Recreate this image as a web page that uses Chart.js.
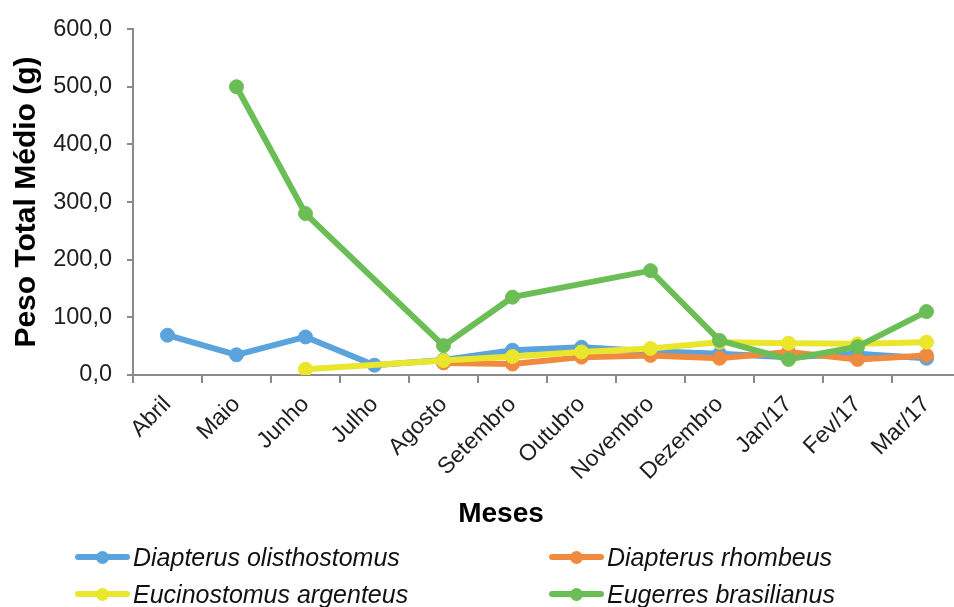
<!DOCTYPE html>
<html lang="pt">
<head>
<meta charset="utf-8">
<title>Peso Total Médio por mês</title>
<script src="https://cdn.jsdelivr.net/npm/chart.js@4.4.1/dist/chart.umd.min.js"></script>
<style>
  html, body { margin: 0; padding: 0; background: #fff; overflow: hidden; }
  #wrap { position: relative; width: 954px; height: 607px; overflow: hidden; }
  #chart { position: absolute; left: 0; top: 0; }
  #xtitle {
    position: absolute; left: 401px; width: 200px; top: 497px; text-align: center;
    font-family: "Liberation Sans", Arial, sans-serif; font-weight: bold;
    font-size: 28px; line-height: 32px; color: #000;
  }
  #legend {
    position: absolute; left: 75px; top: 542px;
    display: grid; grid-template-columns: 474px 380px; row-gap: 7px;
    font-family: "Liberation Sans", Arial, sans-serif; font-style: italic;
    font-size: 25px; color: #111;
  }
  .item { display: flex; align-items: center; height: 30px; white-space: nowrap; }
  .sym { position: relative; width: 55px; height: 6px; margin-right: 3px; border-radius: 3px; }
  .sym i { position: absolute; left: 50%; top: 50%; width: 13px; height: 13px;
           margin: -6.5px 0 0 -6.5px; border-radius: 50%; background: inherit; }
</style>
</head>
<body>
<div id="wrap">
  <canvas id="chart" width="969" height="607"></canvas>
  <div id="xtitle">Meses</div>
  <div id="legend"></div>
</div>
<script>
// Meses de coleta
const months = ['Abril', 'Maio', 'Junho', 'Julho', 'Agosto', 'Setembro', 'Outubro',
                'Novembro', 'Dezembro', 'Jan/17', 'Fev/17', 'Mar/17'];

// Peso total médio (g) por espécie; null = sem captura no mês
const olisthostomus = [69, 35, 66, 17, 26, 43, 48, 41, 37, 31, 37, 29];
const rhombeus      = [null, null, null, null, 21, 19, 31, 34, 29, 40, 27, 34];
const argenteus     = [null, null, 10, null, 25, 32, 40, 46, 57, 55, 54, 57];
const brasilianus   = [null, 500, 280, null, 51, 135, null, 181, 60, 27, 49, 110];

const speciesNames = ['Diapterus olisthostomus', 'Diapterus rhombeus',
                      'Eucinostomus argenteus', 'Eugerres brasilianus'];
const colors = ['#5ba3dc', '#f08a3e', '#e9e62c', '#6bbd55'];

const yTicks = [0, 100, 200, 300, 400, 500, 600];

const FONT = '"Liberation Sans", Arial, sans-serif';
const AXIS = '#8a8a8a';

function series(i, data, order) {
  return {
    label: speciesNames[i], data,
    borderColor: colors[i], backgroundColor: colors[i],
    pointBackgroundColor: colors[i], pointBorderColor: colors[i],
    borderWidth: 6, pointRadius: 7, pointHoverRadius: 7, pointBorderWidth: 1,
    tension: 0, spanGaps: true, order
  };
}

const chart = new Chart(document.getElementById('chart'), {
  type: 'line',
  data: {
    labels: months,
    datasets: [
      series(0, olisthostomus, 4),
      series(1, rhombeus, 3),
      series(2, argenteus, 2),
      series(3, brasilianus, 1)
    ]
  },
  options: {
    responsive: false,
    animation: false,
    layout: { padding: { top: 21, left: 0, right: 0, bottom: 78 } },
    plugins: { legend: { display: false }, tooltip: { enabled: false } },
    scales: {
      x: {
        offset: true,
        grid: { offset: true, drawOnChartArea: false, drawTicks: true,
                tickLength: 8, color: AXIS, lineWidth: 2 },
        border: { color: AXIS, width: 2 },
        ticks: { autoSkip: false, minRotation: 45, maxRotation: 45, padding: 8,
                 color: '#1e1e1e', font: { family: FONT, size: 23 } },
        afterFit: s => { s.height = 154; }
      },
      y: {
        min: 0, max: 600,
        afterBuildTicks: s => { s.ticks = yTicks.map(v => ({ value: v })); },
        grid: { drawOnChartArea: false, drawTicks: true, tickLength: 6,
                color: AXIS, lineWidth: 2 },
        border: { color: AXIS, width: 2 },
        ticks: { padding: 15, color: '#1e1e1e', font: { family: FONT, size: 23.5 },
                 callback: v => v.toFixed(1).replace('.', ',') },
        title: { display: true, text: 'Peso Total Médio (g)', color: '#000',
                 padding: { top: 9, bottom: 0 },
                 font: { family: FONT, size: 30, weight: 'bold' } },
        afterFit: s => { s.width = 133; }
      }
    }
  }
});

// Legend in two columns, built from the chart's datasets
const legend = document.getElementById('legend');
chart.data.datasets.forEach(ds => {
  const item = document.createElement('div');
  item.className = 'item';
  const sym = document.createElement('span');
  sym.className = 'sym';
  sym.style.background = ds.borderColor;
  sym.appendChild(document.createElement('i'));
  const txt = document.createElement('span');
  txt.textContent = ds.label;
  item.appendChild(sym);
  item.appendChild(txt);
  legend.appendChild(item);
});
</script>
</body>
</html>
